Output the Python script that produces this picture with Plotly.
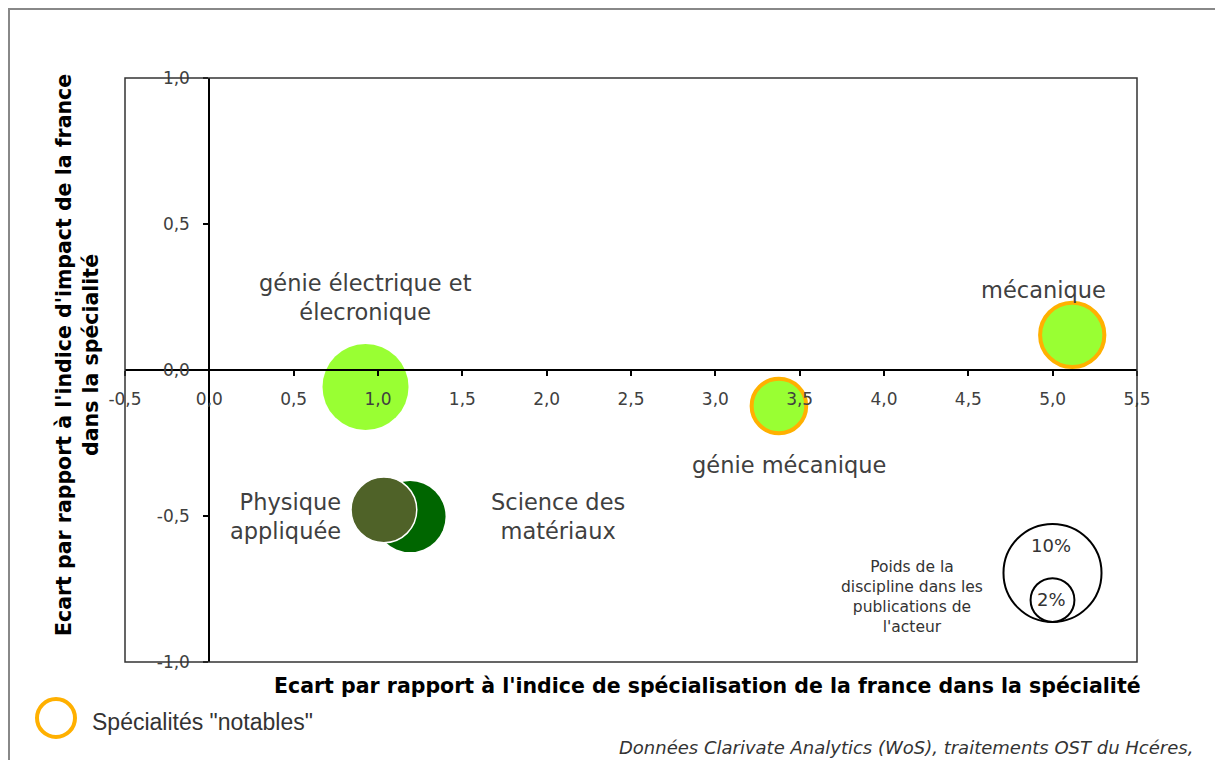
import plotly.graph_objects as go

# ---- data ----
specialites = ["Science des matériaux", "Physique appliquée", "génie électrique et élecronique",
               "génie mécanique", "mécanique"]
ecart_specialisation = [1.19, 1.035, 0.926, 3.377, 5.116]
ecart_impact = [-0.502, -0.479, -0.058, -0.123, 0.120]
poids_pct = [5.25, 4.5, 7.7, 3.1, 4.3]
notable = [False, False, False, True, True]
couleurs = ["#006600", "#4F6228", "#99FF33", "#99FF33", "#99FF33"]

x_ticks = [-0.5, 0.0, 0.5, 1.0, 1.5, 2.0, 2.5, 3.0, 3.5, 4.0, 4.5, 5.0, 5.5]
y_ticks = [-1.0, -0.5, 0.0, 0.5, 1.0]
legende_poids = [10, 2]

# ---- layout geometry (page pixels; the page body has an 8px margin) ----
OFF = 8
W, H = 1223 - OFF, 760 - OFF
X0, X1, Y0, Y1 = 125, 1137, 78, 662          # plot area on the page
L, T = X0 - OFF, Y0 - OFF
R, B = (W + OFF) - X1, (H + OFF) - Y1
PW, PH = X1 - X0, Y1 - Y0
K = 31.0  # pixel diameter per sqrt(%)


def px(x):
    return (x - X0) / PW


def py(y):
    return (Y1 - y) / PH


def fmt(v):
    return f"{v:.1f}".replace(".", ",")


FONT = "DejaVu Sans"
TXT = "#404040"

fig = go.Figure()

for i, name in enumerate(specialites):
    if notable[i]:
        line = dict(color="#FFB000", width=4)
    elif couleurs[i] == "#4F6228":
        line = dict(color="white", width=1.5)
    else:
        line = dict(width=0)
    fig.add_trace(go.Scatter(
        x=[ecart_specialisation[i]], y=[ecart_impact[i]], mode="markers", name=name,
        marker=dict(size=K * poids_pct[i] ** 0.5, sizemode="diameter", color=couleurs[i],
                    line=line, opacity=1),
        hovertemplate=name + "<br>%{x:.2f}, %{y:.2f}<extra></extra>",
    ))

TICKFONT = dict(size=17, color=TXT, family=FONT)
fig.update_layout(
    width=W, height=H, margin=dict(l=L, r=R, t=T, b=B),
    plot_bgcolor="white", paper_bgcolor="white", showlegend=False,
    font=dict(family=FONT, color=TXT),
    xaxis=dict(range=[-0.5, 5.5], tickvals=x_ticks, ticktext=[fmt(v) for v in x_ticks],
               anchor="free", position=0.5, showline=True, linecolor="black", linewidth=2,
               ticks="outside", ticklen=5, tickwidth=2, tickcolor="black",
               ticklabelstandoff=9,
               showgrid=False, zeroline=False, tickfont=TICKFONT),
    yaxis=dict(range=[-1, 1], tickvals=y_ticks, ticktext=[fmt(v) for v in y_ticks],
               anchor="free", position=0.5 / 6, showline=True,
               linecolor="black", linewidth=2,
               ticks="outside", ticklen=5, tickwidth=2, tickcolor="black",
               ticklabelstandoff=10,
               showgrid=False, zeroline=False, tickfont=TICKFONT),
)

shapes = []
# plot area frame
shapes.append(dict(type="rect", xref="paper", yref="paper", x0=0, x1=1, y0=0, y1=1,
                   line=dict(color="#333333", width=1.5), layer="above"))
# outer frame
shapes.append(dict(type="rect", xref="paper", yref="paper", x0=px(9), x1=px(1219),
                   y0=py(800), y1=py(9), line=dict(color="#888888", width=2)))
# size legend circles (bottom-aligned)
cx, base = 1052.5, 622
for w in legende_poids:
    d = K * w ** 0.5
    shapes.append(dict(type="circle", xref="paper", yref="paper",
                       xsizemode="pixel", ysizemode="pixel", xanchor=px(cx), yanchor=py(base),
                       x0=-d / 2, x1=d / 2, y0=0, y1=d,
                       line=dict(color="black", width=2), fillcolor="rgba(0,0,0,0)"))
# notable legend circle
shapes.append(dict(type="circle", xref="paper", yref="paper",
                   xsizemode="pixel", ysizemode="pixel", xanchor=px(56), yanchor=py(718),
                   x0=-19, x1=19, y0=-19, y1=19,
                   line=dict(color="#FFB000", width=4), fillcolor="rgba(0,0,0,0)"))
fig.update_layout(shapes=shapes)

ann = []
LBL = dict(size=22.5, color=TXT, family=FONT)
ann.append(dict(x=0.927, y=0.25, text="génie électrique et<br>élecronique", showarrow=False,
                font=LBL, align="center"))
ann.append(dict(x=4.948, y=0.274, text="mécanique", showarrow=False, font=LBL))
ann.append(dict(x=3.436, y=-0.325, text="génie mécanique", showarrow=False, font=LBL))
ann.append(dict(x=0.792, y=-0.5, text="Physique<br>appliquée", showarrow=False, font=LBL,
                xanchor="right", align="right"))
ann.append(dict(x=2.067, y=-0.5, text="Science des<br>matériaux", showarrow=False, font=LBL,
                align="center"))


def pann(x, y, text, font, **kw):
    d = dict(xref="paper", yref="paper", x=px(x), y=py(y), text=text, showarrow=False,
             font=font, xanchor="center", yanchor="middle")
    d.update(kw)
    ann.append(d)


# size legend texts
pann(912, 597, "Poids de la<br>discipline dans les<br>publications de<br>l'acteur",
     dict(size=15.5, color="#333333", family=FONT), align="center")
pann(1051, 545, "10%", dict(size=18, color="#333333", family=FONT))
pann(1051, 599, "2%", dict(size=18, color="#333333", family=FONT))
# axis titles
pann(707, 686,
     "<b>Ecart par rapport à l'indice de spécialisation de la france dans la spécialité</b>",
     dict(size=20.5, color="black", family=FONT), bgcolor="white")
pann(77, 355,
     "<b>Ecart par rapport à l'indice d'impact de la france<br>dans la spécialité</b>",
     dict(size=20.5, color="black", family=FONT), textangle=-90, align="center")
# notable legend text
pann(90, 722, 'Spécialités "notables"',
     dict(size=23, color="#333333", family="Liberation Sans"), xanchor="left")
# source
pann(1195, 747, "<i>Données Clarivate Analytics (WoS), traitements OST du Hcéres,</i>",
     dict(size=18, color="#333333", family=FONT), xanchor="right")
fig.update_layout(annotations=ann)

fig.write_html("out.html")
